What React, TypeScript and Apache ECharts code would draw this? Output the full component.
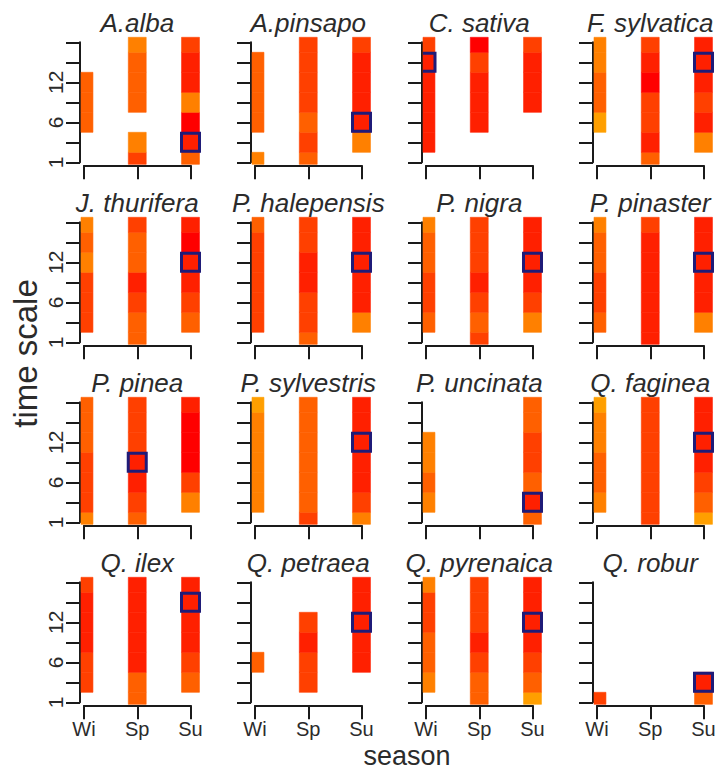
import React, { useEffect, useRef } from 'react';
import * as echarts from 'echarts';

const SEASONS = ['Wi', 'Sp', 'Su'];
const TIME_SCALES = ['1', '3', '6', '9', '12', '15', '18'];
const LABELLED_SCALES = ['1', '6', '12'];

const SPECIES = [
  'A.alba', 'A.pinsapo', 'C. sativa', 'F. sylvatica',
  'J. thurifera', 'P. halepensis', 'P. nigra', 'P. pinaster',
  'P. pinea', 'P. sylvestris', 'P. uncinata', 'Q. faginea',
  'Q. ilex', 'Q. petraea', 'Q. pyrenaica', 'Q. robur',
];

// correlation values per time scale (1,3,6,9,12,15,18), null = not significant
const WINTER: (number | null)[][] = [
  [null, null, 0.45, 0.45, 0.45, null, null],
  [0.40, null, 0.45, 0.45, 0.45, 0.45, null],
  [null, 0.55, 0.55, 0.55, 0.55, 0.55, 0.50],
  [null, null, 0.35, 0.45, 0.45, 0.40, 0.40],
  [null, 0.50, 0.50, 0.50, 0.40, 0.45, 0.40],
  [null, 0.50, 0.50, 0.50, 0.50, 0.50, 0.45],
  [null, 0.45, 0.50, 0.50, 0.45, 0.45, 0.40],
  [null, 0.45, 0.50, 0.50, 0.45, 0.45, 0.40],
  [0.40, 0.50, 0.50, 0.50, 0.45, 0.45, 0.45],
  [null, 0.40, 0.40, 0.40, 0.40, 0.40, 0.35],
  [null, 0.40, 0.45, 0.40, 0.40, null, null],
  [null, 0.40, 0.45, 0.45, 0.40, 0.40, 0.35],
  [null, 0.50, 0.50, 0.55, 0.55, 0.55, 0.50],
  [null, null, 0.45, null, null, null, null],
  [null, 0.40, 0.45, 0.45, 0.50, 0.50, 0.40],
  [0.50, null, null, null, null, null, null],
];

const SPRING: (number | null)[][] = [
  [0.50, 0.40, null, 0.45, 0.45, 0.45, 0.40],
  [0.45, 0.50, 0.45, 0.50, 0.50, 0.50, 0.50],
  [null, null, 0.55, 0.55, 0.55, 0.50, 0.60],
  [0.45, 0.55, 0.50, 0.50, 0.60, 0.55, 0.50],
  [0.45, 0.45, 0.50, 0.55, 0.45, 0.45, 0.50],
  [0.45, 0.50, 0.50, 0.55, 0.55, 0.50, 0.50],
  [0.50, 0.45, 0.50, 0.55, 0.50, 0.50, 0.50],
  [0.55, 0.55, 0.55, 0.55, 0.55, 0.55, 0.50],
  [0.45, 0.50, 0.55, 0.55, 0.50, 0.50, 0.50],
  [0.50, 0.45, 0.45, 0.45, 0.45, 0.45, 0.45],
  [null, null, null, null, null, null, null],
  [0.50, 0.50, 0.50, 0.50, 0.50, 0.50, 0.50],
  [0.45, 0.45, 0.55, 0.55, 0.55, 0.55, 0.55],
  [null, 0.50, 0.50, 0.55, 0.50, null, null],
  [0.45, 0.45, 0.50, 0.55, 0.50, 0.50, 0.50],
  [null, null, null, null, null, null, null],
];

const SUMMER: (number | null)[][] = [
  [0.45, 0.55, 0.60, 0.40, 0.55, 0.55, 0.50],
  [null, 0.40, 0.55, 0.55, 0.55, 0.55, 0.50],
  [null, null, null, 0.55, 0.55, 0.55, 0.50],
  [null, 0.40, 0.55, 0.50, 0.55, 0.55, 0.55],
  [null, 0.45, 0.50, 0.55, 0.55, 0.60, 0.55],
  [null, 0.40, 0.55, 0.55, 0.55, 0.55, 0.55],
  [null, 0.40, 0.50, 0.55, 0.55, 0.55, 0.55],
  [null, 0.40, 0.55, 0.55, 0.55, 0.55, 0.55],
  [null, 0.40, 0.50, 0.60, 0.60, 0.60, 0.55],
  [0.40, 0.50, 0.55, 0.55, 0.55, 0.55, 0.55],
  [0.45, 0.55, 0.45, 0.50, 0.50, 0.45, 0.45],
  [0.35, 0.45, 0.50, 0.55, 0.55, 0.55, 0.55],
  [null, 0.45, 0.50, 0.55, 0.55, 0.55, 0.55],
  [null, null, 0.55, 0.55, 0.55, 0.55, 0.55],
  [0.35, 0.45, 0.50, 0.55, 0.55, 0.55, 0.55],
  [0.45, 0.55, null, null, null, null, null],
];

// strongest correlation (marked with a square)
const BOX_SEASON = ['Su', 'Su', 'Wi', 'Su', 'Su', 'Su', 'Su', 'Su', 'Sp', 'Su', 'Su', 'Su', 'Su', 'Su', 'Su', 'Su'];
const BOX_SCALE = ['3', '6', '15', '15', '12', '12', '12', '12', '9', '12', '3', '12', '15', '12', '12', '3'];

const COLOR_BREAKS = [0.575, 0.525, 0.475, 0.425, 0.375];
const PALETTE = ['#ff0000', '#ff2000', '#ff4000', '#ff6000', '#ff8000', '#ff9f00'];

const FONT = '"Liberation Sans", Arial, Helvetica, sans-serif';
const TEXT_COLOR = '#2b2b2b';
const AXIS_COLOR = '#1a1a1a';
const BOX_COLOR = '#1f1b78';

const PANEL_X0 = 84;
const PANEL_DX = 171;
const PANEL_Y0 = 42.3;
const PANEL_DY = 180;
const PANEL_W = 106.5;
const PANEL_H = 120;
const Y_AXIS_OFFSET = 4;
const X_AXIS_OFFSET = 3;
const TOP_PAD = 5;
const CELL_HALF = 0.168;
const BOX_HALF = 9;

function colorFor(v: number): string {
  let i = 0;
  while (i < COLOR_BREAKS.length && v < COLOR_BREAKS[i]) i++;
  return PALETTE[i];
}

function clipInfo(api: any) {
  const origin = api.coord([0, 0]);
  const top = api.coord([0, TIME_SCALES.length - 1]);
  return {
    left: origin[0] - Y_AXIS_OFFSET + 1,
    bottom: origin[1] + X_AXIS_OFFSET - 1,
    top: top[1] - TOP_PAD,
  };
}

function buildOption() {
  const grids: any[] = [];
  const xAxes: any[] = [];
  const yAxes: any[] = [];
  const series: any[] = [];
  const graphics: any[] = [];
  const columns = [WINTER, SPRING, SUMMER];

  SPECIES.forEach((name, i) => {
    const col = i % 4;
    const row = Math.floor(i / 4);
    const left = PANEL_X0 + PANEL_DX * col;
    const top = PANEL_Y0 + PANEL_DY * row;
    grids.push({ left, top, width: PANEL_W, height: PANEL_H, containLabel: false, outerBoundsMode: 'none' });
    const axisLine = { show: true, lineStyle: { color: AXIS_COLOR, width: 2 } };
    const axisTick = { show: true, length: 14, interval: 0, lineStyle: { color: AXIS_COLOR, width: 2 } };
    xAxes.push({
      type: 'category', gridIndex: i, data: SEASONS, boundaryGap: false, offset: X_AXIS_OFFSET,
      axisLine, axisTick, splitLine: { show: false },
      axisLabel: {
        show: row === 3, interval: 0, margin: 14.5, fontSize: 20, lineHeight: 18,
        color: TEXT_COLOR, fontFamily: FONT,
      },
    });
    yAxes.push({
      type: 'category', gridIndex: i, data: TIME_SCALES, boundaryGap: false, offset: Y_AXIS_OFFSET,
      axisLine, axisTick, splitLine: { show: false },
      axisLabel: {
        show: col === 0, interval: 0, rotate: 90, margin: 14, fontSize: 21, color: TEXT_COLOR, fontFamily: FONT,
        formatter: (v: string) => (LABELLED_SCALES.includes(v) ? v : ''),
      },
    });

    const data: any[] = [];
    columns.forEach((arr, s) => {
      arr[i].forEach((v, t) => {
        if (v !== null) data.push([s, t, v]);
      });
    });
    series.push({
      type: 'custom', xAxisIndex: i, yAxisIndex: i, data, silent: true,
      renderItem: (_p: any, api: any) => {
        const s = api.value(0);
        const t = api.value(1);
        const v = api.value(2);
        const c = api.coord([s, t]);
        const sz = api.size([1, 1]);
        const clip = clipInfo(api);
        const x0 = Math.max(c[0] - CELL_HALF * sz[0], clip.left);
        const x1 = c[0] + CELL_HALF * sz[0];
        const y0 = Math.max(c[1] - sz[1] / 2, clip.top);
        const y1 = Math.min(c[1] + sz[1] / 2, clip.bottom);
        const color = colorFor(v);
        return {
          type: 'rect',
          shape: { x: x0, y: y0, width: x1 - x0, height: y1 - y0 },
          style: { fill: color, stroke: color, lineWidth: 0.6 },
        };
      },
    });
    series.push({
      type: 'custom', xAxisIndex: i, yAxisIndex: i, silent: true,
      data: [[SEASONS.indexOf(BOX_SEASON[i]), TIME_SCALES.indexOf(BOX_SCALE[i])]],
      renderItem: (_p: any, api: any) => {
        const c = api.coord([api.value(0), api.value(1)]);
        const clip = clipInfo(api);
        const l = c[0] - BOX_HALF;
        const r = c[0] + BOX_HALF;
        const t = c[1] - BOX_HALF;
        const b = c[1] + BOX_HALF;
        const style = { fill: 'none', stroke: BOX_COLOR, lineWidth: 3 };
        if (l - 1.5 < clip.left) {
          return {
            type: 'polyline',
            shape: { points: [[clip.left, t], [r, t], [r, b], [clip.left, b]] },
            style,
          };
        }
        return { type: 'rect', shape: { x: l, y: t, width: r - l, height: b - t }, style };
      },
    });

    graphics.push({
      type: 'text',
      x: left + PANEL_W / 2,
      y: top - 19.1,
      style: {
        text: name, fontSize: 26, fontStyle: 'italic', fontFamily: FONT, fill: TEXT_COLOR,
        textAlign: 'center', textVerticalAlign: 'middle', align: 'center', verticalAlign: 'middle',
      },
    });
  });

  graphics.push({
    type: 'text', x: 407, y: 755.7,
    style: {
      text: 'season', fontSize: 27, lineHeight: 20, fontFamily: FONT, fill: TEXT_COLOR,
      textAlign: 'center', textVerticalAlign: 'middle', align: 'center', verticalAlign: 'middle',
    },
  });
  graphics.push({
    type: 'text', x: 25.2, y: 353.5, rotation: Math.PI / 2,
    style: {
      text: 'time scale', fontSize: 33, fontFamily: FONT, fill: TEXT_COLOR,
      textAlign: 'center', textVerticalAlign: 'middle', align: 'center', verticalAlign: 'middle',
    },
  });

  return {
    animation: false,
    backgroundColor: '#ffffff',
    grid: grids,
    xAxis: xAxes,
    yAxis: yAxes,
    series,
    graphic: graphics,
  };
}

export default function App() {
  const ref = useRef<HTMLDivElement>(null);
  useEffect(() => {
    if (!ref.current) return;
    const chart = echarts.init(ref.current, undefined, { renderer: 'svg' });
    chart.setOption(buildOption() as any);
    return () => chart.dispose();
  }, []);
  return (
    <div
      ref={ref}
      style={{ position: 'fixed', left: 0, top: 0, width: 721, height: 771, background: '#fff' }}
    />
  );
}
